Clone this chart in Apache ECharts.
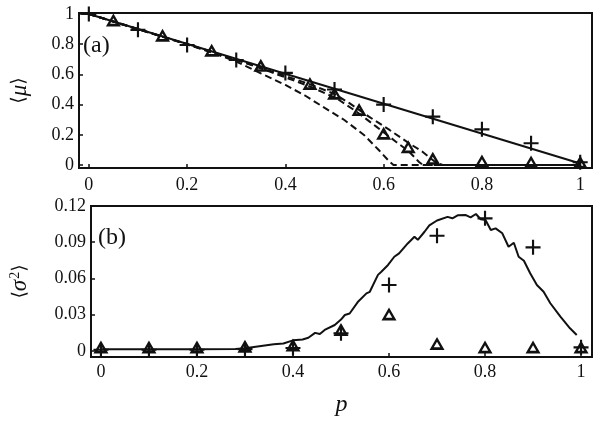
<!DOCTYPE html>
<html>
<head>
<meta charset="utf-8">
<script src="https://cdn.jsdelivr.net/npm/echarts@6/dist/echarts.min.js"></script>
<style>
  html, body { margin: 0; padding: 0; background: #fff; }
  #main { width: 601px; height: 421px; }
</style>
</head>
<body>
<div id="main"></div>
<script>
// tick values
var xTicks = [0, 0.2, 0.4, 0.6, 0.8, 1];
var muTicks = [0, 0.2, 0.4, 0.6, 0.8, 1];
var sigTicks = [0, 0.03, 0.06, 0.09, 0.12];

// panel (a): <mu>
var muLineP = [0, 1];
var muLineV = [1, 0.01];
var muPlusP = [0, 0.1, 0.2, 0.3, 0.4, 0.5, 0.6, 0.7, 0.8, 0.9, 1];
var muPlusV = [1, 0.895, 0.795, 0.695, 0.61, 0.5, 0.4, 0.32, 0.236, 0.144, 0.018];
var muTriP = [0.05, 0.15, 0.25, 0.35, 0.45, 0.5, 0.55, 0.6, 0.65, 0.7, 0.8, 0.9, 1];
var muTriV = [0.96, 0.86, 0.76, 0.66, 0.54, 0.475, 0.367, 0.21, 0.121, 0.044, 0.027, 0.02, 0.02];
var dashAP = [0, 0.2, 0.25, 0.3, 0.35, 0.4, 0.44, 0.48, 0.52, 0.56, 0.59, 0.612, 0.62, 1];
var dashAV = [1, 0.8, 0.745, 0.685, 0.607, 0.53, 0.46, 0.378, 0.298, 0.199, 0.099, 0.022, 0, 0];
var dashBP = [0, 0.25, 0.3, 0.35, 0.4, 0.45, 0.505, 0.545, 0.585, 0.625, 0.652, 0.672, 0.68, 1];
var dashBV = [1, 0.75, 0.695, 0.64, 0.58, 0.52, 0.44, 0.353, 0.254, 0.154, 0.088, 0.02, 0, 0];
var dashCP = [0, 0.3, 0.4, 0.45, 0.5, 0.531, 0.57, 0.612, 0.652, 0.679, 0.705, 0.72, 1];
var dashCV = [1, 0.698, 0.59, 0.535, 0.47, 0.408, 0.32, 0.232, 0.143, 0.088, 0.02, 0, 0];

// panel (b): <sigma^2>
var sigCurveP = [0, 0.1, 0.2, 0.28, 0.3, 0.33, 0.36, 0.38, 0.4, 0.42, 0.432, 0.446, 0.456, 0.466,
  0.487, 0.5, 0.508, 0.518, 0.536, 0.553, 0.56, 0.577, 0.584, 0.598, 0.611, 0.621, 0.639, 0.653,
  0.66, 0.674, 0.684, 0.7, 0.722, 0.732, 0.743, 0.76, 0.77, 0.781, 0.791, 0.801, 0.812, 0.822,
  0.836, 0.849, 0.86, 0.87, 0.881, 0.894, 0.908, 0.922, 0.936, 0.957, 0.977, 0.991];
var sigCurveV = [0.0014, 0.0014, 0.0014, 0.0016, 0.0022, 0.004, 0.0055, 0.0062, 0.0088, 0.0095, 0.011, 0.015, 0.014, 0.0174,
  0.0215, 0.026, 0.0298, 0.031, 0.041, 0.0477, 0.049, 0.063, 0.0656, 0.0712, 0.078, 0.0808, 0.089, 0.0946,
  0.092, 0.0987, 0.104, 0.108, 0.111, 0.1098, 0.1123, 0.1125, 0.1106, 0.1134, 0.109, 0.1084, 0.1001, 0.1015,
  0.0974, 0.0863, 0.0896, 0.078, 0.0747, 0.0643, 0.0546, 0.049, 0.0395, 0.0284, 0.0188, 0.0132];
var sigPlusP = [0, 0.1, 0.2, 0.3, 0.4, 0.5, 0.6, 0.7, 0.8, 0.9, 1];
var sigPlusV = [0.001, 0.001, 0.001, 0.0015, 0.0025, 0.0146, 0.0546, 0.0954, 0.1098, 0.0858, 0.003];
var sigTriP = [0, 0.1, 0.2, 0.3, 0.4, 0.5, 0.6, 0.7, 0.8, 0.9, 1];
var sigTriV = [0.0033, 0.0033, 0.0033, 0.004, 0.005, 0.0178, 0.0306, 0.0063, 0.0033, 0.0033, 0.0033];

function pairs(xs, ys) {
    return xs.map(function (x, i) { return [x, ys[i]]; });
}

var plusSym = 'path://M6,0H8V6H14V8H8V14H6V8H0V6H6Z';
// open triangle, heavier base (hole cut with reverse winding)
var triSym = 'path://M7,0L14,13L0,13Z M7,4.8L4,10.3L10,10.3Z';
var serif = "'Liberation Serif', serif";

function xAxisCfg(grid, min, max, margin, name) {
    return {
        type: 'value', gridIndex: grid, min: min, max: max,
        name: name || '', nameLocation: 'middle', nameGap: 36,
        nameTextStyle: { fontFamily: serif, fontStyle: 'italic', fontSize: 24, color: '#111' },
        axisLine: { show: false, onZero: false },
        axisTick: { show: true, inside: true, length: 4, customValues: xTicks, lineStyle: { color: '#111', width: 1.5 } },
        axisLabel: { customValues: xTicks, margin: margin, fontFamily: serif, fontSize: 18, color: '#111',
            formatter: function (v) { return String(v); } },
        splitLine: { show: false }
    };
}
function yAxisCfg(grid, min, max, ticks, name, gap, rich) {
    return {
        type: 'value', gridIndex: grid, min: min, max: max,
        name: name, nameLocation: 'middle', nameRotate: 90, nameGap: gap,
        nameTextStyle: { rich: rich },
        axisLine: { show: false, onZero: false },
        axisTick: { show: true, inside: true, length: 4, customValues: ticks, lineStyle: { color: '#111', width: 1.5 } },
        axisLabel: { customValues: ticks, margin: 5, fontFamily: serif, fontSize: 18, color: '#111',
            formatter: function (v) { return String(v); } },
        splitLine: { show: false }
    };
}

var nameRich = {
    n: { fontFamily: "'DejaVu Serif', serif", fontSize: 19, color: '#111' },
    i: { fontFamily: serif, fontStyle: 'italic', fontSize: 23, color: '#111' },
    s: { fontFamily: serif, fontSize: 14, color: '#111', verticalAlign: 'top', padding: [0, 0, 10, 1] }
};

function lineSeries(xi, yi, data, dashed) {
    return {
        type: 'line', xAxisIndex: xi, yAxisIndex: yi, data: data,
        showSymbol: false, symbol: 'none', smooth: false, z: 2,
        lineStyle: { color: '#111', width: 2, type: dashed ? [7, 4] : 'solid' }
    };
}
function markSeries(xi, yi, data, sym, size) {
    return {
        type: 'scatter', xAxisIndex: xi, yAxisIndex: yi, data: data,
        symbol: sym, symbolSize: size, z: 5,
        itemStyle: { color: '#111', opacity: 1 }
    };
}

var option = {
    backgroundColor: '#fff',
    animation: false,
    grid: [
        { left: 72, top: 13, width: 520, height: 155, show: true, borderColor: '#111', borderWidth: 2, backgroundColor: 'transparent' },
        { left: 88, top: 206, width: 504, height: 151, show: true, borderColor: '#111', borderWidth: 2, backgroundColor: 'transparent' }
    ],
    xAxis: [
        xAxisCfg(0, -0.02, 1.024, 8),
        xAxisCfg(1, -0.0207, 1.0228, 6, 'p')
    ],
    yAxis: [
        yAxisCfg(0, -0.02, 1.0066, muTicks, '{n|⟨}{i|μ}{n|⟩}', 48, nameRich),
        yAxisCfg(1, -0.00497, 0.12, sigTicks, '{n|⟨}{i|σ}{s|2}{n|⟩}', 59, nameRich)
    ],
    graphic: [
        { type: 'text', left: 83, top: 34, style: { text: '(a)', font: "24px 'Liberation Serif', serif", fill: '#111' } },
        { type: 'text', left: 98, top: 226, style: { text: '(b)', font: "24px 'Liberation Serif', serif", fill: '#111' } }
    ],
    series: [
        lineSeries(0, 0, pairs(muLineP, muLineV), false),
        lineSeries(0, 0, pairs(dashAP, dashAV), true),
        lineSeries(0, 0, pairs(dashBP, dashBV), true),
        lineSeries(0, 0, pairs(dashCP, dashCV), true),
        markSeries(0, 0, pairs(muPlusP, muPlusV), plusSym, 15),
        markSeries(0, 0, pairs(muTriP, muTriV), triSym, [15, 13]),
        lineSeries(1, 1, pairs(sigCurveP, sigCurveV), false),
        markSeries(1, 1, pairs(sigPlusP, sigPlusV), plusSym, 15),
        markSeries(1, 1, pairs(sigTriP, sigTriV), triSym, [15, 13])
    ]
};

var myChart = echarts.init(document.getElementById('main'), null, { renderer: 'canvas' });
myChart.setOption(option);
</script>
</body>
</html>
